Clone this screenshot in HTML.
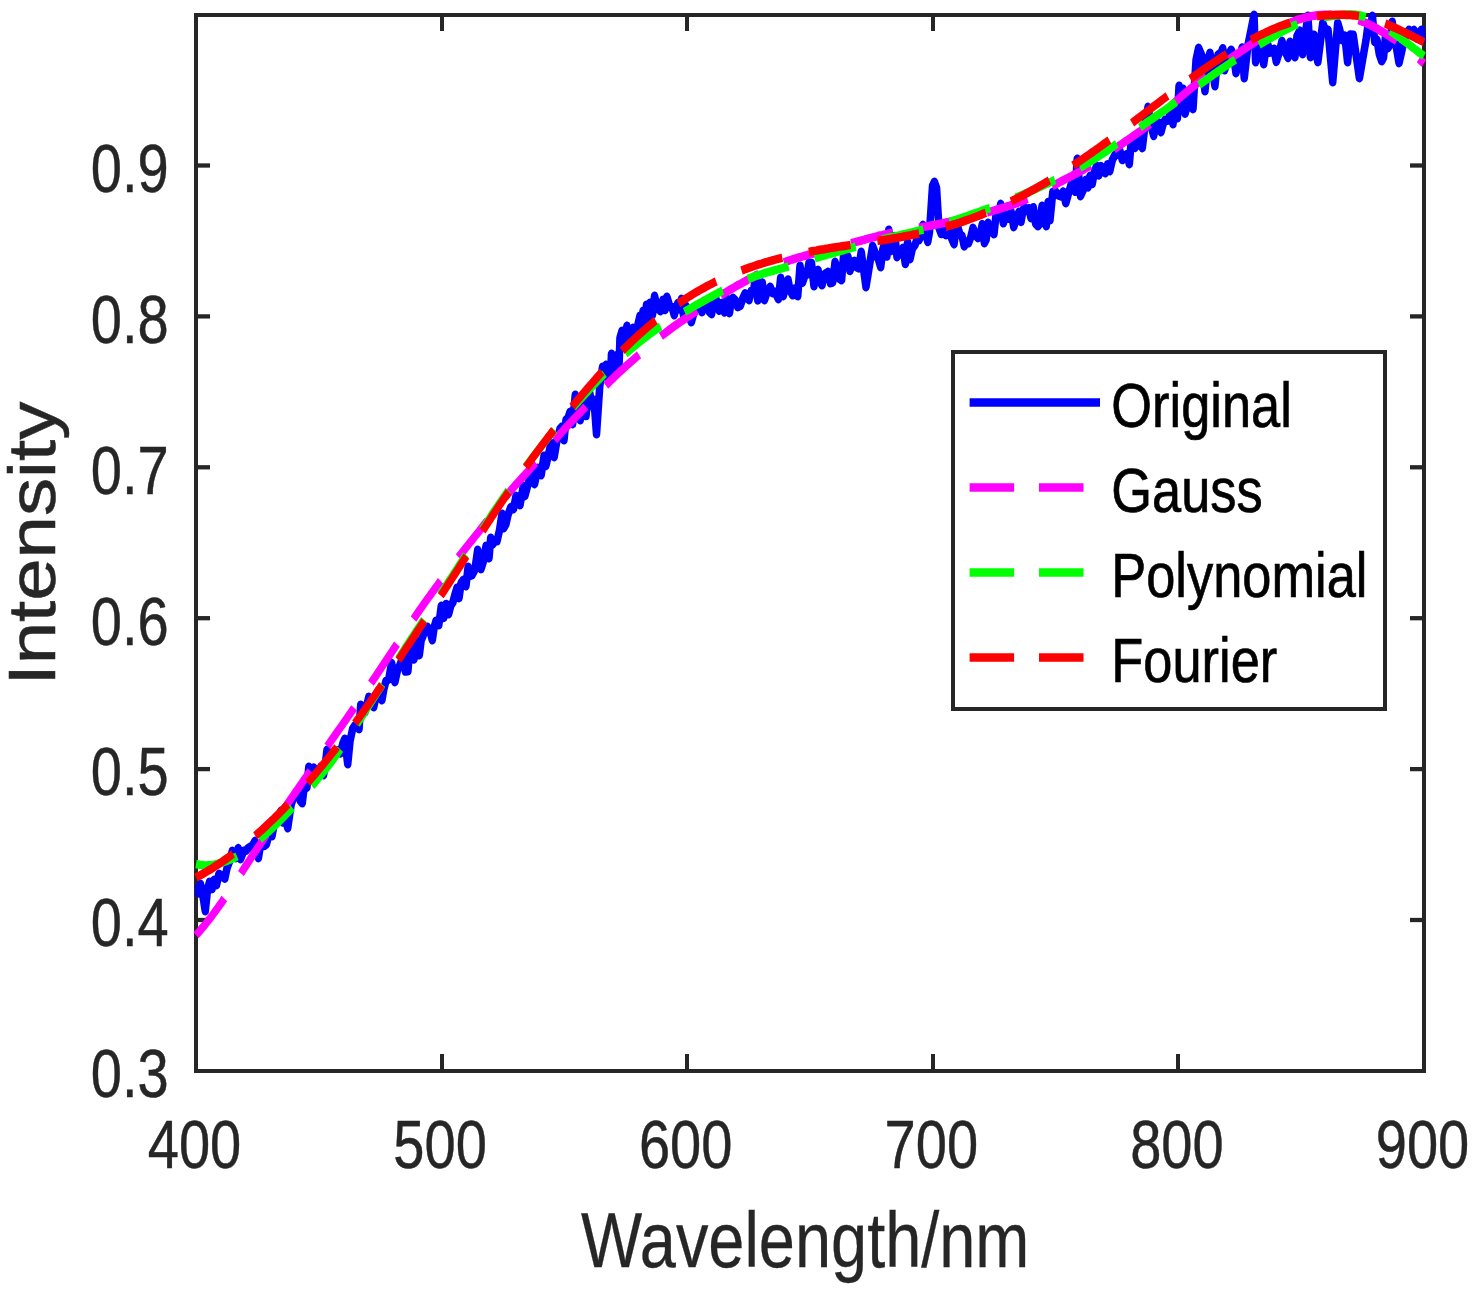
<!DOCTYPE html>
<html><head><meta charset="utf-8"><title>Spectrum fit</title>
<style>html,body{margin:0;padding:0;background:#fff;}svg{display:block;}text{font-family:"Liberation Sans",sans-serif;}</style></head>
<body>
<svg width="1477" height="1290" viewBox="0 0 1477 1290" font-family="'Liberation Sans', sans-serif">
<rect width="1477" height="1290" fill="#ffffff"/>
<g stroke="#262626" stroke-width="4" fill="none" shape-rendering="crispEdges">
<rect x="196.0" y="15.0" width="1228.0" height="1056.0"/>
<line x1="442" y1="1071.0" x2="442" y2="1054.0"/>
<line x1="442" y1="15.0" x2="442" y2="31.0"/>
<line x1="687" y1="1071.0" x2="687" y2="1054.0"/>
<line x1="687" y1="15.0" x2="687" y2="31.0"/>
<line x1="933" y1="1071.0" x2="933" y2="1054.0"/>
<line x1="933" y1="15.0" x2="933" y2="31.0"/>
<line x1="1178" y1="1071.0" x2="1178" y2="1054.0"/>
<line x1="1178" y1="15.0" x2="1178" y2="31.0"/>
</g>
<g stroke="#262626" stroke-width="4.3" fill="none">
<line x1="196.0" y1="920.0" x2="210.0" y2="920.0"/>
<line x1="1424.0" y1="920.0" x2="1410.0" y2="920.0"/>
<line x1="196.0" y1="769.1" x2="210.0" y2="769.1"/>
<line x1="1424.0" y1="769.1" x2="1410.0" y2="769.1"/>
<line x1="196.0" y1="618.2" x2="210.0" y2="618.2"/>
<line x1="1424.0" y1="618.2" x2="1410.0" y2="618.2"/>
<line x1="196.0" y1="467.3" x2="210.0" y2="467.3"/>
<line x1="1424.0" y1="467.3" x2="1410.0" y2="467.3"/>
<line x1="196.0" y1="316.4" x2="210.0" y2="316.4"/>
<line x1="1424.0" y1="316.4" x2="1410.0" y2="316.4"/>
<line x1="196.0" y1="165.5" x2="210.0" y2="165.5"/>
<line x1="1424.0" y1="165.5" x2="1410.0" y2="165.5"/>
</g>
<g transform="scale(0.85,1)" fill="none" stroke-width="8.5" stroke-linejoin="round">
<clipPath id="cb"><rect x="229.4" y="0" width="1447.6" height="1290"/></clipPath>
<path d="M230.6,896.5L233.5,888.0L235.9,884.0L238.2,893.0L241.5,911.0L244.1,890.0L246.5,882.0L249.4,889.0L251.8,880.0L254.7,885.0L257.6,874.0L259.8,875.5L261.9,877.0L264.5,878.5L267.1,868.0L270.2,861.0L273.3,851.0L275.5,855.7L277.6,858.0L280.3,848.3L282.9,859.0L286.7,851.0L289.2,850.7L291.6,848.5L294.1,847.0L297.1,845.7L300.0,841.0L304.0,858.0L306.1,846.7L308.2,846.0L310.9,845.8L313.5,844.0L316.8,832.8L320.0,836.0L322.4,824.9L324.7,822.0L327.6,820.2L330.6,811.0L333.2,822.4L335.8,819.0L338.5,828.0L342.4,805.0L345.9,796.0L348.3,792.1L350.8,791.4L353.2,800.6L355.6,803.0L358.8,780.0L361.1,787.5L363.3,767.0L366.1,772.6L368.9,767.7L371.8,771.0L374.7,776.2L377.6,766.6L380.6,775.0L382.6,765.2L384.7,750.0L387.8,761.4L391.0,754.7L394.1,752.0L397.3,750.4L400.4,753.2L403.5,743.0L405.6,739.0L409.1,764.0L411.8,741.0L414.8,729.0L417.3,725.9L419.8,725.2L422.4,729.0L424.4,705.0L426.9,708.2L429.4,712.0L431.6,704.7L433.9,697.0L436.8,699.2L439.6,707.0L442.2,697.3L444.7,691.0L447.0,692.2L449.3,700.0L451.7,688.6L454.1,681.0L457.4,679.1L460.7,663.0L464.6,682.0L467.6,670.4L470.6,665.0L474.1,656.0L477.0,671.3L479.9,671.0L482.3,646.8L484.7,651.0L487.1,659.3L489.4,641.0L493.3,655.0L495.5,640.2L497.6,636.0L500.2,629.1L502.8,627.0L505.7,630.7L508.6,640.0L510.8,627.3L512.9,621.0L516.2,625.0L519.2,606.0L522.0,617.7L524.9,604.1L527.8,614.0L530.3,605.8L532.9,602.1L535.4,594.0L537.7,587.9L540.0,598.0L542.5,582.9L545.1,580.0L548.2,586.0L550.7,567.0L553.0,575.7L555.3,575.0L558.6,569.9L562.0,550.0L565.9,569.0L568.8,561.0L571.8,546.0L575.3,558.0L577.3,538.0L579.8,544.1L582.2,540.5L584.7,541.0L587.6,530.5L590.6,514.0L592.6,528.0L595.1,524.3L597.6,515.0L600.9,507.3L604.1,509.0L607.1,496.0L609.4,499.9L611.8,505.0L615.6,486.0L617.5,496.0L619.9,488.4L622.4,480.0L624.7,472.8L627.1,473.0L628.9,484.0L632.9,468.0L636.7,475.0L640.0,456.0L642.2,465.8L644.4,458.0L648.2,443.0L652.0,457.0L655.3,440.0L658.8,429.0L661.2,426.7L663.5,440.0L665.9,420.0L668.2,418.4L670.6,412.0L673.7,424.0L676.8,395.0L679.7,399.4L682.6,420.0L684.8,399.1L687.1,400.0L689.4,415.9L691.8,397.0L693.9,393.2L696.0,406.0L698.8,400.0L701.8,434.0L705.6,386.0L708.9,367.0L711.2,376.0L712.9,365.0L715.9,379.0L718.5,372.0L719.4,354.0L722.4,369.0L726.1,355.0L728.2,367.0L729.4,338.0L731.8,331.0L734.7,346.0L737.6,326.0L741.2,341.0L744.7,328.0L748.2,339.0L750.6,324.2L752.9,316.0L755.3,331.0L756.5,311.0L758.8,326.0L760.6,305.0L762.9,319.0L764.7,303.0L767.6,315.0L770.1,296.0L772.9,307.0L776.8,311.0L780.0,300.0L782.3,309.9L784.6,297.0L788.2,307.0L790.7,307.1L793.2,315.0L795.4,308.5L797.6,303.0L799.7,309.3L801.8,299.0L804.4,317.2L807.1,306.0L810.2,315.5L813.3,322.0L816.1,313.8L818.8,308.0L821.2,306.7L823.5,306.5L825.9,312.0L828.8,301.8L831.8,305.0L834.5,311.6L837.2,314.0L840.1,299.4L842.9,300.0L846.2,310.6L849.4,303.0L852.4,312.3L855.3,298.7L858.2,313.0L860.3,300.4L862.4,298.0L865.1,300.4L867.9,307.0L871.0,305.7L874.1,298.0L876.5,293.5L878.8,297.1L881.2,300.0L883.8,291.2L886.4,291.6L888.9,276.0L891.5,300.2L894.1,285.0L896.8,282.7L899.4,300.0L902.8,291.2L906.1,287.0L908.9,292.9L911.8,292.0L915.8,299.0L918.4,278.0L921.5,296.0L924.7,285.0L927.1,279.6L929.4,290.0L932.4,295.1L935.5,288.4L938.5,296.0L941.2,266.0L944.1,282.6L947.1,275.0L949.4,274.5L951.8,263.0L954.7,263.1L957.6,286.0L960.0,271.0L962.4,270.0L964.7,281.8L967.1,285.0L969.4,274.9L971.8,273.3L974.1,272.0L976.9,283.0L979.6,282.4L982.4,262.0L984.9,268.7L987.5,278.6L990.1,280.0L992.6,253.9L995.1,253.2L997.6,257.0L1000.0,270.9L1002.4,262.0L1004.9,261.1L1007.4,267.0L1010.3,268.2L1013.2,252.0L1016.0,269.5L1018.8,287.0L1021.4,273.3L1024.0,259.7L1026.6,246.0L1030.6,255.0L1033.4,259.2L1036.1,267.0L1038.6,249.6L1041.2,241.0L1043.4,256.4L1045.6,230.0L1048.1,250.9L1050.6,245.0L1052.9,236.3L1055.3,257.0L1057.6,252.7L1060.0,253.1L1062.4,248.0L1065.1,263.8L1067.8,242.5L1070.6,259.0L1073.5,248.1L1076.5,245.0L1078.8,239.0L1081.2,240.0L1083.5,235.3L1085.9,225.0L1089.4,235.0L1091.5,241.7L1093.5,232.0L1097.1,186.0L1099.3,182.0L1101.8,188.0L1104.7,228.0L1107.4,233.9L1110.0,228.1L1112.7,235.0L1115.2,234.0L1117.6,232.0L1120.0,239.3L1122.4,244.0L1124.7,228.5L1127.1,228.0L1129.4,234.7L1131.8,236.0L1134.4,246.2L1136.9,241.9L1139.5,243.0L1142.1,237.1L1144.7,228.0L1147.6,234.7L1150.6,238.0L1153.1,234.6L1155.6,224.3L1158.1,243.0L1160.2,239.5L1162.4,223.0L1164.7,232.2L1167.1,228.6L1169.4,234.0L1172.0,213.2L1174.7,215.7L1177.3,204.0L1180.4,223.1L1183.5,215.0L1186.5,218.6L1189.6,211.8L1192.6,227.0L1195.7,218.7L1198.8,212.0L1201.2,221.8L1203.5,209.8L1205.9,208.0L1208.2,210.9L1210.6,208.4L1212.9,218.0L1215.7,207.4L1218.4,223.6L1221.2,226.0L1223.5,223.4L1225.9,206.0L1228.4,220.5L1230.9,226.0L1233.1,202.1L1235.3,220.0L1238.6,192.0L1241.6,191.3L1244.7,195.0L1247.8,196.2L1250.8,191.7L1253.9,203.0L1256.9,193.8L1260.0,185.0L1262.4,182.2L1264.9,191.6L1267.3,159.0L1271.2,196.0L1274.4,190.0L1277.6,180.0L1280.0,187.3L1282.4,176.0L1285.0,183.7L1287.6,171.5L1290.2,166.0L1292.7,175.2L1295.2,166.2L1297.6,168.0L1300.3,173.1L1303.0,164.5L1305.6,171.0L1308.7,159.8L1311.8,155.0L1314.7,154.3L1317.6,151.0L1320.4,159.9L1323.1,156.0L1325.9,154.1L1328.6,164.0L1330.8,142.2L1332.9,141.0L1335.3,147.7L1337.6,145.0L1340.8,132.2L1343.9,148.0L1347.1,125.0L1350.6,107.0L1354.6,127.0L1357.3,135.7L1360.0,122.0L1362.9,122.4L1365.9,132.0L1368.2,124.4L1370.6,120.0L1373.1,120.6L1375.6,117.0L1377.8,106.2L1380.0,124.0L1382.6,102.6L1385.2,118.0L1387.1,86.0L1389.4,103.7L1391.8,89.0L1394.2,113.5L1396.7,106.0L1400.0,95.0L1403.5,109.0L1407.1,60.0L1410.1,48.0L1414.1,56.0L1417.6,91.0L1421.2,60.0L1423.5,53.0L1426.4,69.5L1429.3,86.0L1432.9,55.0L1436.5,53.0L1438.6,48.4L1440.7,70.0L1444.7,55.0L1448.5,50.0L1451.3,55.9L1454.1,73.0L1456.5,62.4L1458.8,60.0L1461.3,47.7L1463.8,78.0L1466.0,61.5L1468.2,45.0L1471.8,30.0L1475.3,15.0L1477.2,62.0L1481.2,50.0L1483.9,38.8L1486.7,64.0L1489.2,49.5L1491.8,45.0L1494.1,52.5L1496.5,52.0L1499.0,48.9L1501.5,61.7L1504.0,55.0L1506.1,48.7L1508.2,41.0L1510.6,51.1L1512.9,53.0L1515.3,57.7L1517.6,42.0L1521.2,50.0L1523.5,57.1L1525.9,36.0L1529.1,30.7L1532.4,54.0L1535.5,35.0L1538.7,16.0L1541.6,57.0L1543.8,38.0L1545.9,35.0L1548.1,52.0L1550.4,62.0L1553.3,42.5L1556.2,23.0L1560.0,32.0L1562.4,30.0L1565.1,56.0L1567.9,82.0L1570.8,52.5L1573.8,23.0L1576.3,30.4L1578.8,40.0L1582.1,35.7L1585.4,62.0L1588.7,34.8L1592.0,35.0L1594.4,49.3L1596.9,63.7L1599.3,78.0L1601.9,65.3L1604.5,52.7L1607.1,40.0L1609.6,24.0L1612.1,26.5L1614.6,16.0L1617.3,41.9L1620.0,40.0L1622.8,54.3L1625.5,61.0L1627.7,57.6L1629.9,37.0L1632.9,48.0L1635.4,44.4L1637.9,22.0L1640.5,35.7L1643.2,49.3L1645.9,63.0L1649.4,50.0L1651.8,40.0L1654.7,33.0L1657.6,30.0L1660.6,35.0L1663.5,30.0L1666.5,38.0L1669.4,33.0L1672.2,30.0L1675.3,43.0" stroke="#0000ff" stroke-width="8.9" clip-path="url(#cb)"/>
<path d="M230.6,935.3L232.9,933.0L235.3,930.7L237.6,928.3L240.0,925.9L242.4,923.4L244.7,920.9L247.1,918.3L249.4,915.7L251.8,913.0L254.1,910.3L256.5,907.5L258.8,904.7L261.2,901.9L263.5,899.0L265.9,896.0L268.2,893.1L270.6,890.1L272.9,887.1L275.3,884.0L277.6,881.0L280.0,877.9L282.4,874.8L284.7,871.8L287.1,868.7L289.4,865.6L291.8,862.5L294.1,859.5L296.5,856.4L298.8,853.4L301.2,850.4L303.5,847.3L305.9,844.3L308.2,841.3L310.6,838.3L312.9,835.3L315.3,832.4L317.6,829.4L320.0,826.4L322.4,823.5L324.7,820.5L327.1,817.6L329.4,814.7L331.8,811.8L334.1,808.9L336.5,806.0L338.8,803.1L341.2,800.2L343.5,797.3L345.9,794.4L348.2,791.5L350.6,788.7L352.9,785.8L355.3,782.9L357.6,780.0L360.0,777.1L362.4,774.2L364.7,771.3L367.1,768.4L369.4,765.5L371.8,762.6L374.1,759.7L376.5,756.8L378.8,753.9L381.2,751.0L383.5,748.1L385.9,745.2L388.2,742.4L390.6,739.5L392.9,736.7L395.3,733.8L397.6,731.0L400.0,728.1L402.4,725.3L404.7,722.4L407.1,719.6L409.4,716.7L411.8,713.8L414.1,710.9L416.5,708.0L418.8,705.1L421.2,702.2L423.5,699.3L425.9,696.3L428.2,693.4L430.6,690.5L432.9,687.5L435.3,684.5L437.6,681.6L440.0,678.6L442.4,675.7L444.7,672.7L447.1,669.7L449.4,666.7L451.8,663.7L454.1,660.7L456.5,657.7L458.8,654.7L461.2,651.7L463.5,648.7L465.9,645.6L468.2,642.6L470.6,639.5L472.9,636.5L475.3,633.4L477.6,630.4L480.0,627.3L482.4,624.3L484.7,621.3L487.1,618.3L489.4,615.4L491.8,612.4L494.1,609.5L496.5,606.7L498.8,603.8L501.2,601.0L503.5,598.2L505.9,595.5L508.2,592.7L510.6,590.0L512.9,587.2L515.3,584.5L517.6,581.8L520.0,579.1L522.4,576.4L524.7,573.7L527.1,571.0L529.4,568.4L531.8,565.7L534.1,563.1L536.5,560.4L538.8,557.8L541.2,555.3L543.5,552.7L545.9,550.2L548.2,547.6L550.6,545.1L552.9,542.6L555.3,540.2L557.6,537.7L560.0,535.1L562.4,532.6L564.7,530.1L567.1,527.5L569.4,524.9L571.8,522.3L574.1,519.6L576.5,517.0L578.8,514.3L581.2,511.7L583.5,509.0L585.9,506.4L588.2,503.8L590.6,501.2L592.9,498.7L595.3,496.2L597.6,493.8L600.0,491.4L602.4,489.0L604.7,486.7L607.1,484.5L609.4,482.3L611.8,480.1L614.1,477.9L616.5,475.7L618.8,473.5L621.2,471.3L623.5,469.1L625.9,466.8L628.2,464.5L630.6,462.2L632.9,459.9L635.3,457.6L637.6,455.2L640.0,452.8L642.4,450.5L644.7,448.1L647.1,445.7L649.4,443.4L651.8,441.0L654.1,438.7L656.5,436.4L658.8,434.1L661.2,431.9L663.5,429.6L665.9,427.4L668.2,425.3L670.6,423.1L672.9,421.0L675.3,418.9L677.6,416.8L680.0,414.8L682.4,412.7L684.7,410.6L687.1,408.5L689.4,406.4L691.8,404.3L694.1,402.2L696.5,400.1L698.8,398.0L701.2,395.9L703.5,393.8L705.9,391.6L708.2,389.5L710.6,387.4L712.9,385.4L715.3,383.3L717.6,381.3L720.0,379.3L722.4,377.4L724.7,375.4L727.1,373.5L729.4,371.7L731.8,369.8L734.1,368.0L736.5,366.2L738.8,364.4L741.2,362.6L743.5,360.9L745.9,359.1L748.2,357.4L750.6,355.6L752.9,353.9L755.3,352.2L757.6,350.5L760.0,348.7L762.4,347.0L764.7,345.4L767.1,343.7L769.4,342.0L771.8,340.4L774.1,338.7L776.5,337.1L778.8,335.5L781.2,334.0L783.5,332.4L785.9,330.9L788.2,329.4L790.6,327.9L792.9,326.4L795.3,325.0L797.6,323.6L800.0,322.2L802.4,320.8L804.7,319.4L807.1,318.1L809.4,316.7L811.8,315.4L814.1,314.1L816.5,312.8L818.8,311.4L821.2,310.1L823.5,308.8L825.9,307.5L828.2,306.2L830.6,304.9L832.9,303.6L835.3,302.3L837.6,301.0L840.0,299.7L842.4,298.4L844.7,297.1L847.1,295.9L849.4,294.6L851.8,293.4L854.1,292.2L856.5,291.0L858.8,289.8L861.2,288.6L863.5,287.5L865.9,286.3L868.2,285.2L870.6,284.1L872.9,283.0L875.3,281.9L877.6,280.8L880.0,279.7L882.4,278.7L884.7,277.6L887.1,276.5L889.4,275.4L891.8,274.4L894.1,273.4L896.5,272.3L898.8,271.3L901.2,270.3L903.5,269.3L905.9,268.4L908.2,267.4L910.6,266.5L912.9,265.6L915.3,264.8L917.6,263.9L920.0,263.1L922.4,262.4L924.7,261.6L927.1,260.9L929.4,260.2L931.8,259.6L934.1,258.9L936.5,258.3L938.8,257.7L941.2,257.1L943.5,256.6L945.9,256.0L948.2,255.5L950.6,254.9L952.9,254.4L955.3,253.8L957.6,253.3L960.0,252.7L962.4,252.2L964.7,251.7L967.1,251.1L969.4,250.6L971.8,250.0L974.1,249.5L976.5,249.0L978.8,248.4L981.2,247.9L983.5,247.3L985.9,246.8L988.2,246.3L990.6,245.7L992.9,245.2L995.3,244.6L997.6,244.1L1000.0,243.6L1002.4,243.0L1004.7,242.5L1007.1,241.9L1009.4,241.4L1011.8,240.9L1014.1,240.3L1016.5,239.8L1018.8,239.2L1021.2,238.7L1023.5,238.1L1025.9,237.6L1028.2,237.1L1030.6,236.6L1032.9,236.0L1035.3,235.5L1037.6,235.1L1040.0,234.6L1042.4,234.1L1044.7,233.7L1047.1,233.2L1049.4,232.8L1051.8,232.4L1054.1,232.0L1056.5,231.6L1058.8,231.2L1061.2,230.8L1063.5,230.5L1065.9,230.1L1068.2,229.7L1070.6,229.4L1072.9,229.0L1075.3,228.7L1077.6,228.3L1080.0,227.9L1082.4,227.6L1084.7,227.2L1087.1,226.8L1089.4,226.5L1091.8,226.1L1094.1,225.7L1096.5,225.3L1098.8,224.9L1101.2,224.6L1103.5,224.2L1105.9,223.8L1108.2,223.4L1110.6,222.9L1112.9,222.5L1115.3,222.1L1117.6,221.7L1120.0,221.2L1122.4,220.8L1124.7,220.3L1127.1,219.9L1129.4,219.4L1131.8,219.0L1134.1,218.5L1136.5,218.0L1138.8,217.5L1141.2,217.0L1143.5,216.5L1145.9,216.0L1148.2,215.5L1150.6,214.9L1152.9,214.4L1155.3,213.9L1157.6,213.3L1160.0,212.8L1162.4,212.2L1164.7,211.6L1167.1,211.1L1169.4,210.5L1171.8,209.9L1174.1,209.3L1176.5,208.7L1178.8,208.1L1181.2,207.5L1183.5,206.9L1185.9,206.2L1188.2,205.6L1190.6,204.9L1192.9,204.2L1195.3,203.5L1197.6,202.7L1200.0,202.0L1202.4,201.1L1204.7,200.3L1207.1,199.4L1209.4,198.5L1211.8,197.6L1214.1,196.7L1216.5,195.7L1218.8,194.7L1221.2,193.7L1223.5,192.6L1225.9,191.6L1228.2,190.5L1230.6,189.5L1232.9,188.4L1235.3,187.3L1237.6,186.2L1240.0,185.2L1242.4,184.1L1244.7,183.1L1247.1,182.0L1249.4,181.0L1251.8,179.9L1254.1,178.9L1256.5,177.9L1258.8,176.8L1261.2,175.8L1263.5,174.7L1265.9,173.7L1268.2,172.6L1270.6,171.5L1272.9,170.4L1275.3,169.3L1277.6,168.1L1280.0,166.9L1282.4,165.7L1284.7,164.4L1287.1,163.2L1289.4,161.9L1291.8,160.5L1294.1,159.2L1296.5,157.8L1298.8,156.4L1301.2,155.1L1303.5,153.7L1305.9,152.2L1308.2,150.8L1310.6,149.4L1312.9,148.0L1315.3,146.6L1317.6,145.2L1320.0,143.8L1322.4,142.4L1324.7,141.0L1327.1,139.7L1329.4,138.3L1331.8,136.9L1334.1,135.5L1336.5,134.1L1338.8,132.7L1341.2,131.3L1343.5,129.9L1345.9,128.4L1348.2,127.0L1350.6,125.4L1352.9,123.9L1355.3,122.3L1357.6,120.7L1360.0,119.0L1362.4,117.3L1364.7,115.6L1367.1,113.8L1369.4,112.1L1371.8,110.3L1374.1,108.4L1376.5,106.6L1378.8,104.8L1381.2,103.0L1383.5,101.2L1385.9,99.4L1388.2,97.7L1390.6,95.9L1392.9,94.2L1395.3,92.5L1397.6,90.8L1400.0,89.1L1402.4,87.5L1404.7,85.9L1407.1,84.3L1409.4,82.7L1411.8,81.1L1414.1,79.5L1416.5,78.0L1418.8,76.4L1421.2,74.9L1423.5,73.4L1425.9,71.9L1428.2,70.4L1430.6,68.9L1432.9,67.4L1435.3,65.9L1437.6,64.5L1440.0,63.0L1442.4,61.6L1444.7,60.2L1447.1,58.8L1449.4,57.4L1451.8,56.0L1454.1,54.6L1456.5,53.3L1458.8,51.9L1461.2,50.6L1463.5,49.2L1465.9,47.9L1468.2,46.6L1470.6,45.3L1472.9,44.0L1475.3,42.7L1477.6,41.4L1480.0,40.2L1482.4,38.9L1484.7,37.7L1487.1,36.5L1489.4,35.3L1491.8,34.1L1494.1,32.9L1496.5,31.8L1498.8,30.6L1501.2,29.5L1503.5,28.5L1505.9,27.4L1508.2,26.4L1510.6,25.5L1512.9,24.5L1515.3,23.6L1517.6,22.8L1520.0,22.0L1522.4,21.2L1524.7,20.4L1527.1,19.7L1529.4,19.1L1531.8,18.5L1534.1,17.9L1536.5,17.4L1538.8,16.9L1541.2,16.5L1543.5,16.1L1545.9,15.8L1548.2,15.5L1550.6,15.2L1552.9,15.0L1555.3,14.9L1557.6,14.8L1560.0,14.8L1562.4,14.8L1564.7,14.8L1567.1,14.9L1569.4,15.0L1571.8,15.2L1574.1,15.4L1576.5,15.7L1578.8,16.0L1581.2,16.3L1583.5,16.7L1585.9,17.1L1588.2,17.5L1590.6,18.0L1592.9,18.6L1595.3,19.2L1597.6,19.9L1600.0,20.6L1602.4,21.4L1604.7,22.2L1607.1,23.1L1609.4,24.0L1611.8,25.0L1614.1,26.0L1616.5,27.0L1618.8,28.1L1621.2,29.2L1623.5,30.4L1625.9,31.6L1628.2,32.8L1630.6,34.0L1632.9,35.3L1635.3,36.5L1637.6,37.9L1640.0,39.2L1642.4,40.6L1644.7,42.0L1647.1,43.5L1649.4,45.0L1651.8,46.5L1654.1,48.0L1656.5,49.6L1658.8,51.3L1661.2,52.9L1663.5,54.6L1665.9,56.3L1668.2,58.1L1670.6,59.8L1672.9,61.6L1675.3,63.4" stroke="#ff00ff" stroke-dasharray="49.7 31.7"/>
<path d="M230.6,864.0L232.9,864.4L235.3,864.8L237.6,865.1L240.0,865.3L242.4,865.4L244.7,865.3L247.1,865.2L249.4,864.9L251.8,864.6L254.1,864.1L256.5,863.6L258.8,863.0L261.2,862.4L263.5,861.8L265.9,861.1L268.2,860.4L270.6,859.7L272.9,858.8L275.3,857.9L277.6,856.8L280.0,855.6L282.4,854.4L284.7,853.1L287.1,851.7L289.4,850.3L291.8,848.8L294.1,847.3L296.5,845.7L298.8,844.1L301.2,842.5L303.5,840.9L305.9,839.2L308.2,837.4L310.6,835.7L312.9,833.9L315.3,832.1L317.6,830.2L320.0,828.3L322.4,826.4L324.7,824.5L327.1,822.5L329.4,820.5L331.8,818.5L334.1,816.5L336.5,814.4L338.8,812.3L341.2,810.2L343.5,808.1L345.9,805.9L348.2,803.8L350.6,801.6L352.9,799.4L355.3,797.1L357.6,794.9L360.0,792.6L362.4,790.4L364.7,788.0L367.1,785.7L369.4,783.4L371.8,781.0L374.1,778.6L376.5,776.2L378.8,773.8L381.2,771.3L383.5,768.8L385.9,766.2L388.2,763.6L390.6,761.0L392.9,758.2L395.3,755.5L397.6,752.6L400.0,749.8L402.4,746.9L404.7,743.9L407.1,740.9L409.4,737.9L411.8,734.9L414.1,731.8L416.5,728.7L418.8,725.6L421.2,722.5L423.5,719.4L425.9,716.3L428.2,713.2L430.6,710.1L432.9,707.0L435.3,703.9L437.6,700.8L440.0,697.7L442.4,694.5L444.7,691.3L447.1,688.2L449.4,685.0L451.8,681.8L454.1,678.6L456.5,675.4L458.8,672.2L461.2,669.0L463.5,665.8L465.9,662.6L468.2,659.4L470.6,656.2L472.9,653.1L475.3,650.0L477.6,646.9L480.0,643.8L482.4,640.7L484.7,637.6L487.1,634.6L489.4,631.5L491.8,628.5L494.1,625.5L496.5,622.4L498.8,619.4L501.2,616.3L503.5,613.3L505.9,610.3L508.2,607.2L510.6,604.2L512.9,601.1L515.3,598.0L517.6,595.0L520.0,591.9L522.4,588.9L524.7,585.8L527.1,582.7L529.4,579.6L531.8,576.5L534.1,573.4L536.5,570.3L538.8,567.2L541.2,564.1L543.5,561.0L545.9,557.8L548.2,554.7L550.6,551.6L552.9,548.5L555.3,545.4L557.6,542.3L560.0,539.1L562.4,536.0L564.7,532.9L567.1,529.8L569.4,526.8L571.8,523.7L574.1,520.6L576.5,517.6L578.8,514.5L581.2,511.5L583.5,508.5L585.9,505.6L588.2,502.6L590.6,499.7L592.9,496.8L595.3,493.9L597.6,491.0L600.0,488.2L602.4,485.4L604.7,482.6L607.1,479.9L609.4,477.1L611.8,474.4L614.1,471.7L616.5,469.0L618.8,466.3L621.2,463.7L623.5,461.0L625.9,458.4L628.2,455.8L630.6,453.2L632.9,450.6L635.3,448.0L637.6,445.4L640.0,442.9L642.4,440.4L644.7,437.8L647.1,435.3L649.4,432.8L651.8,430.4L654.1,427.9L656.5,425.5L658.8,423.1L661.2,420.7L663.5,418.3L665.9,415.9L668.2,413.6L670.6,411.2L672.9,408.9L675.3,406.6L677.6,404.3L680.0,402.1L682.4,399.8L684.7,397.6L687.1,395.4L689.4,393.2L691.8,391.0L694.1,388.9L696.5,386.7L698.8,384.6L701.2,382.5L703.5,380.4L705.9,378.4L708.2,376.3L710.6,374.3L712.9,372.3L715.3,370.3L717.6,368.3L720.0,366.4L722.4,364.5L724.7,362.6L727.1,360.7L729.4,358.8L731.8,357.0L734.1,355.2L736.5,353.4L738.8,351.6L741.2,349.9L743.5,348.2L745.9,346.5L748.2,344.8L750.6,343.1L752.9,341.5L755.3,339.9L757.6,338.3L760.0,336.8L762.4,335.3L764.7,333.8L767.1,332.3L769.4,330.9L771.8,329.5L774.1,328.2L776.5,326.8L778.8,325.5L781.2,324.2L783.5,322.9L785.9,321.6L788.2,320.4L790.6,319.2L792.9,317.9L795.3,316.7L797.6,315.6L800.0,314.4L802.4,313.2L804.7,312.1L807.1,310.9L809.4,309.8L811.8,308.6L814.1,307.5L816.5,306.3L818.8,305.2L821.2,304.1L823.5,302.9L825.9,301.8L828.2,300.7L830.6,299.6L832.9,298.5L835.3,297.4L837.6,296.3L840.0,295.2L842.4,294.1L844.7,293.0L847.1,292.0L849.4,290.9L851.8,289.9L854.1,288.9L856.5,287.9L858.8,286.9L861.2,285.9L863.5,285.0L865.9,284.0L868.2,283.1L870.6,282.2L872.9,281.4L875.3,280.5L877.6,279.7L880.0,278.9L882.4,278.1L884.7,277.4L887.1,276.6L889.4,275.9L891.8,275.3L894.1,274.6L896.5,274.0L898.8,273.3L901.2,272.7L903.5,272.2L905.9,271.6L908.2,271.0L910.6,270.5L912.9,269.9L915.3,269.4L917.6,268.8L920.0,268.3L922.4,267.7L924.7,267.2L927.1,266.6L929.4,266.0L931.8,265.4L934.1,264.8L936.5,264.2L938.8,263.6L941.2,263.0L943.5,262.3L945.9,261.7L948.2,261.1L950.6,260.4L952.9,259.8L955.3,259.2L957.6,258.6L960.0,257.9L962.4,257.3L964.7,256.7L967.1,256.1L969.4,255.5L971.8,255.0L974.1,254.4L976.5,253.9L978.8,253.3L981.2,252.8L983.5,252.2L985.9,251.7L988.2,251.1L990.6,250.5L992.9,250.0L995.3,249.4L997.6,248.9L1000.0,248.3L1002.4,247.7L1004.7,247.2L1007.1,246.6L1009.4,246.1L1011.8,245.5L1014.1,244.9L1016.5,244.4L1018.8,243.8L1021.2,243.3L1023.5,242.7L1025.9,242.2L1028.2,241.6L1030.6,241.1L1032.9,240.6L1035.3,240.0L1037.6,239.5L1040.0,239.0L1042.4,238.5L1044.7,238.0L1047.1,237.5L1049.4,237.0L1051.8,236.6L1054.1,236.1L1056.5,235.6L1058.8,235.2L1061.2,234.7L1063.5,234.2L1065.9,233.8L1068.2,233.3L1070.6,232.8L1072.9,232.3L1075.3,231.8L1077.6,231.3L1080.0,230.8L1082.4,230.3L1084.7,229.8L1087.1,229.3L1089.4,228.7L1091.8,228.2L1094.1,227.6L1096.5,227.1L1098.8,226.5L1101.2,225.9L1103.5,225.4L1105.9,224.8L1108.2,224.2L1110.6,223.6L1112.9,223.0L1115.3,222.4L1117.6,221.7L1120.0,221.1L1122.4,220.5L1124.7,219.8L1127.1,219.2L1129.4,218.5L1131.8,217.8L1134.1,217.2L1136.5,216.5L1138.8,215.8L1141.2,215.1L1143.5,214.4L1145.9,213.7L1148.2,213.0L1150.6,212.3L1152.9,211.6L1155.3,210.8L1157.6,210.1L1160.0,209.4L1162.4,208.7L1164.7,207.9L1167.1,207.2L1169.4,206.4L1171.8,205.7L1174.1,204.9L1176.5,204.1L1178.8,203.3L1181.2,202.6L1183.5,201.8L1185.9,201.0L1188.2,200.1L1190.6,199.3L1192.9,198.5L1195.3,197.6L1197.6,196.8L1200.0,195.9L1202.4,195.0L1204.7,194.2L1207.1,193.3L1209.4,192.4L1211.8,191.4L1214.1,190.5L1216.5,189.6L1218.8,188.7L1221.2,187.8L1223.5,186.9L1225.9,186.0L1228.2,185.1L1230.6,184.1L1232.9,183.2L1235.3,182.3L1237.6,181.4L1240.0,180.5L1242.4,179.6L1244.7,178.6L1247.1,177.7L1249.4,176.8L1251.8,175.8L1254.1,174.8L1256.5,173.8L1258.8,172.8L1261.2,171.8L1263.5,170.8L1265.9,169.7L1268.2,168.7L1270.6,167.6L1272.9,166.4L1275.3,165.3L1277.6,164.1L1280.0,162.9L1282.4,161.7L1284.7,160.5L1287.1,159.2L1289.4,157.9L1291.8,156.7L1294.1,155.3L1296.5,154.0L1298.8,152.7L1301.2,151.3L1303.5,150.0L1305.9,148.6L1308.2,147.2L1310.6,145.8L1312.9,144.4L1315.3,143.0L1317.6,141.6L1320.0,140.2L1322.4,138.7L1324.7,137.3L1327.1,135.9L1329.4,134.5L1331.8,133.0L1334.1,131.6L1336.5,130.2L1338.8,128.7L1341.2,127.3L1343.5,125.9L1345.9,124.5L1348.2,123.0L1350.6,121.6L1352.9,120.2L1355.3,118.9L1357.6,117.5L1360.0,116.1L1362.4,114.8L1364.7,113.4L1367.1,112.1L1369.4,110.7L1371.8,109.3L1374.1,107.8L1376.5,106.4L1378.8,104.9L1381.2,103.4L1383.5,101.9L1385.9,100.4L1388.2,99.0L1390.6,97.5L1392.9,96.0L1395.3,94.5L1397.6,93.0L1400.0,91.5L1402.4,90.0L1404.7,88.6L1407.1,87.1L1409.4,85.6L1411.8,84.2L1414.1,82.7L1416.5,81.3L1418.8,79.9L1421.2,78.5L1423.5,77.0L1425.9,75.6L1428.2,74.2L1430.6,72.8L1432.9,71.4L1435.3,70.1L1437.6,68.7L1440.0,67.3L1442.4,65.9L1444.7,64.6L1447.1,63.2L1449.4,61.9L1451.8,60.5L1454.1,59.2L1456.5,57.9L1458.8,56.6L1461.2,55.3L1463.5,54.0L1465.9,52.7L1468.2,51.4L1470.6,50.2L1472.9,48.9L1475.3,47.7L1477.6,46.5L1480.0,45.3L1482.4,44.1L1484.7,42.9L1487.1,41.8L1489.4,40.6L1491.8,39.5L1494.1,38.4L1496.5,37.2L1498.8,36.1L1501.2,35.0L1503.5,33.9L1505.9,32.8L1508.2,31.6L1510.6,30.6L1512.9,29.5L1515.3,28.5L1517.6,27.5L1520.0,26.5L1522.4,25.6L1524.7,24.8L1527.1,24.0L1529.4,23.2L1531.8,22.5L1534.1,21.8L1536.5,21.2L1538.8,20.6L1541.2,20.1L1543.5,19.5L1545.9,19.0L1548.2,18.6L1550.6,18.1L1552.9,17.7L1555.3,17.4L1557.6,17.0L1560.0,16.7L1562.4,16.4L1564.7,16.2L1567.1,15.9L1569.4,15.7L1571.8,15.5L1574.1,15.3L1576.5,15.1L1578.8,14.9L1581.2,14.7L1583.5,14.6L1585.9,14.5L1588.2,14.4L1590.6,14.5L1592.9,14.6L1595.3,14.8L1597.6,15.1L1600.0,15.5L1602.4,16.0L1604.7,16.6L1607.1,17.3L1609.4,18.0L1611.8,18.9L1614.1,19.8L1616.5,20.8L1618.8,21.9L1621.2,23.0L1623.5,24.2L1625.9,25.5L1628.2,26.8L1630.6,28.1L1632.9,29.5L1635.3,30.8L1637.6,32.2L1640.0,33.6L1642.4,35.0L1644.7,36.5L1647.1,37.9L1649.4,39.4L1651.8,40.9L1654.1,42.4L1656.5,43.9L1658.8,45.4L1661.2,46.9L1663.5,48.5L1665.9,50.0L1668.2,51.6L1670.6,53.1L1672.9,54.7L1675.3,56.2" stroke="#00ff00" stroke-dasharray="49.7 31.7"/>
<path d="M230.6,877.5L232.9,876.4L235.3,875.4L237.6,874.3L240.0,873.1L242.4,872.0L244.7,870.8L247.1,869.6L249.4,868.4L251.8,867.1L254.1,865.8L256.5,864.5L258.8,863.2L261.2,861.8L263.5,860.4L265.9,859.0L268.2,857.6L270.6,856.2L272.9,854.7L275.3,853.2L277.6,851.7L280.0,850.1L282.4,848.5L284.7,847.0L287.1,845.3L289.4,843.7L291.8,842.0L294.1,840.4L296.5,838.7L298.8,836.9L301.2,835.2L303.5,833.4L305.9,831.6L308.2,829.8L310.6,828.0L312.9,826.1L315.3,824.2L317.6,822.3L320.0,820.4L322.4,818.5L324.7,816.5L327.1,814.5L329.4,812.5L331.8,810.5L334.1,808.5L336.5,806.4L338.8,804.3L341.2,802.2L343.5,800.1L345.9,797.9L348.2,795.8L350.6,793.6L352.9,791.4L355.3,789.1L357.6,786.9L360.0,784.6L362.4,782.4L364.7,780.0L367.1,777.7L369.4,775.4L371.8,773.0L374.1,770.6L376.5,768.2L378.8,765.8L381.2,763.4L383.5,760.9L385.9,758.4L388.2,755.9L390.6,753.4L392.9,750.9L395.3,748.3L397.6,745.7L400.0,743.2L402.4,740.5L404.7,737.9L407.1,735.3L409.4,732.6L411.8,729.9L414.1,727.2L416.5,724.5L418.8,721.8L421.2,719.0L423.5,716.2L425.9,713.5L428.2,710.6L430.6,707.8L432.9,705.0L435.3,702.1L437.6,699.3L440.0,696.4L442.4,693.5L444.7,690.5L447.1,687.6L449.4,684.7L451.8,681.7L454.1,678.8L456.5,675.8L458.8,672.8L461.2,669.8L463.5,666.8L465.9,663.8L468.2,660.8L470.6,657.8L472.9,654.7L475.3,651.7L477.6,648.7L480.0,645.7L482.4,642.6L484.7,639.6L487.1,636.6L489.4,633.5L491.8,630.5L494.1,627.5L496.5,624.4L498.8,621.4L501.2,618.3L503.5,615.3L505.9,612.3L508.2,609.2L510.6,606.2L512.9,603.1L515.3,600.0L517.6,597.0L520.0,593.9L522.4,590.9L524.7,587.8L527.1,584.7L529.4,581.6L531.8,578.5L534.1,575.4L536.5,572.3L538.8,569.2L541.2,566.1L543.5,563.0L545.9,559.8L548.2,556.7L550.6,553.6L552.9,550.5L555.3,547.4L557.6,544.3L560.0,541.1L562.4,538.0L564.7,534.9L567.1,531.8L569.4,528.8L571.8,525.7L574.1,522.6L576.5,519.6L578.8,516.5L581.2,513.5L583.5,510.5L585.9,507.5L588.2,504.5L590.6,501.6L592.9,498.6L595.3,495.7L597.6,492.8L600.0,489.8L602.4,487.0L604.7,484.1L607.1,481.2L609.4,478.4L611.8,475.5L614.1,472.7L616.5,469.9L618.8,467.1L621.2,464.4L623.5,461.6L625.9,458.8L628.2,456.1L630.6,453.4L632.9,450.7L635.3,448.0L637.6,445.3L640.0,442.7L642.4,440.0L644.7,437.4L647.1,434.7L649.4,432.1L651.8,429.5L654.1,427.0L656.5,424.4L658.8,421.9L661.2,419.3L663.5,416.8L665.9,414.3L668.2,411.8L670.6,409.3L672.9,406.9L675.3,404.4L677.6,402.0L680.0,399.6L682.4,397.2L684.7,394.8L687.1,392.5L689.4,390.1L691.8,387.8L694.1,385.5L696.5,383.2L698.8,380.9L701.2,378.6L703.5,376.4L705.9,374.2L708.2,372.0L710.6,369.8L712.9,367.6L715.3,365.5L717.6,363.3L720.0,361.2L722.4,359.1L724.7,357.1L727.1,355.0L729.4,353.0L731.8,351.0L734.1,349.0L736.5,347.0L738.8,345.1L741.2,343.2L743.5,341.3L745.9,339.4L748.2,337.5L750.6,335.7L752.9,333.9L755.3,332.1L757.6,330.3L760.0,328.6L762.4,326.9L764.7,325.2L767.1,323.5L769.4,321.8L771.8,320.2L774.1,318.6L776.5,317.0L778.8,315.5L781.2,313.9L783.5,312.4L785.9,310.9L788.2,309.5L790.6,308.0L792.9,306.6L795.3,305.2L797.6,303.8L800.0,302.4L802.4,301.1L804.7,299.8L807.1,298.5L809.4,297.2L811.8,296.0L814.1,294.7L816.5,293.5L818.8,292.3L821.2,291.2L823.5,290.0L825.9,288.9L828.2,287.8L830.6,286.7L832.9,285.6L835.3,284.6L837.6,283.6L840.0,282.5L842.4,281.6L844.7,280.6L847.1,279.6L849.4,278.7L851.8,277.8L854.1,276.9L856.5,276.0L858.8,275.1L861.2,274.3L863.5,273.5L865.9,272.7L868.2,271.9L870.6,271.1L872.9,270.3L875.3,269.6L877.6,268.8L880.0,268.1L882.4,267.4L884.7,266.7L887.1,266.0L889.4,265.4L891.8,264.7L894.1,264.1L896.5,263.5L898.8,262.8L901.2,262.2L903.5,261.7L905.9,261.1L908.2,260.5L910.6,260.0L912.9,259.4L915.3,258.9L917.6,258.4L920.0,257.9L922.4,257.4L924.7,256.9L927.1,256.4L929.4,255.9L931.8,255.5L934.1,255.0L936.5,254.6L938.8,254.1L941.2,253.7L943.5,253.3L945.9,252.9L948.2,252.5L950.6,252.1L952.9,251.7L955.3,251.3L957.6,250.9L960.0,250.6L962.4,250.2L964.7,249.8L967.1,249.5L969.4,249.2L971.8,248.8L974.1,248.5L976.5,248.1L978.8,247.8L981.2,247.5L983.5,247.2L985.9,246.9L988.2,246.6L990.6,246.3L992.9,246.0L995.3,245.7L997.6,245.4L1000.0,245.1L1002.4,244.8L1004.7,244.5L1007.1,244.2L1009.4,243.9L1011.8,243.6L1014.1,243.3L1016.5,243.0L1018.8,242.7L1021.2,242.4L1023.5,242.1L1025.9,241.8L1028.2,241.5L1030.6,241.2L1032.9,240.9L1035.3,240.6L1037.6,240.3L1040.0,240.0L1042.4,239.6L1044.7,239.3L1047.1,239.0L1049.4,238.6L1051.8,238.3L1054.1,238.0L1056.5,237.6L1058.8,237.2L1061.2,236.9L1063.5,236.5L1065.9,236.1L1068.2,235.7L1070.6,235.4L1072.9,235.0L1075.3,234.5L1077.6,234.1L1080.0,233.7L1082.4,233.3L1084.7,232.8L1087.1,232.4L1089.4,231.9L1091.8,231.4L1094.1,231.0L1096.5,230.5L1098.8,230.0L1101.2,229.5L1103.5,228.9L1105.9,228.4L1108.2,227.9L1110.6,227.3L1112.9,226.8L1115.3,226.2L1117.6,225.6L1120.0,225.0L1122.4,224.4L1124.7,223.8L1127.1,223.1L1129.4,222.5L1131.8,221.8L1134.1,221.1L1136.5,220.4L1138.8,219.7L1141.2,219.0L1143.5,218.3L1145.9,217.5L1148.2,216.8L1150.6,216.0L1152.9,215.2L1155.3,214.4L1157.6,213.6L1160.0,212.8L1162.4,212.0L1164.7,211.1L1167.1,210.2L1169.4,209.4L1171.8,208.5L1174.1,207.6L1176.5,206.7L1178.8,205.7L1181.2,204.8L1183.5,203.8L1185.9,202.9L1188.2,201.9L1190.6,200.9L1192.9,199.9L1195.3,198.9L1197.6,197.9L1200.0,196.9L1202.4,195.8L1204.7,194.8L1207.1,193.7L1209.4,192.6L1211.8,191.5L1214.1,190.4L1216.5,189.3L1218.8,188.2L1221.2,187.0L1223.5,185.9L1225.9,184.7L1228.2,183.6L1230.6,182.4L1232.9,181.2L1235.3,180.0L1237.6,178.8L1240.0,177.6L1242.4,176.4L1244.7,175.1L1247.1,173.9L1249.4,172.6L1251.8,171.3L1254.1,170.1L1256.5,168.8L1258.8,167.5L1261.2,166.2L1263.5,164.8L1265.9,163.5L1268.2,162.2L1270.6,160.8L1272.9,159.5L1275.3,158.1L1277.6,156.7L1280.0,155.3L1282.4,153.9L1284.7,152.5L1287.1,151.1L1289.4,149.7L1291.8,148.3L1294.1,146.8L1296.5,145.4L1298.8,143.9L1301.2,142.5L1303.5,141.0L1305.9,139.5L1308.2,138.0L1310.6,136.5L1312.9,135.1L1315.3,133.6L1317.6,132.1L1320.0,130.6L1322.4,129.0L1324.7,127.5L1327.1,126.0L1329.4,124.5L1331.8,123.0L1334.1,121.4L1336.5,119.9L1338.8,118.4L1341.2,116.9L1343.5,115.3L1345.9,113.8L1348.2,112.3L1350.6,110.7L1352.9,109.2L1355.3,107.7L1357.6,106.1L1360.0,104.6L1362.4,103.1L1364.7,101.6L1367.1,100.0L1369.4,98.5L1371.8,97.0L1374.1,95.5L1376.5,94.0L1378.8,92.5L1381.2,91.0L1383.5,89.5L1385.9,88.0L1388.2,86.5L1390.6,85.0L1392.9,83.5L1395.3,82.1L1397.6,80.6L1400.0,79.2L1402.4,77.7L1404.7,76.3L1407.1,74.8L1409.4,73.4L1411.8,72.0L1414.1,70.6L1416.5,69.2L1418.8,67.8L1421.2,66.4L1423.5,65.1L1425.9,63.7L1428.2,62.4L1430.6,61.0L1432.9,59.7L1435.3,58.4L1437.6,57.1L1440.0,55.8L1442.4,54.6L1444.7,53.3L1447.1,52.1L1449.4,50.8L1451.8,49.6L1454.1,48.4L1456.5,47.2L1458.8,46.0L1461.2,44.9L1463.5,43.7L1465.9,42.6L1468.2,41.5L1470.6,40.4L1472.9,39.4L1475.3,38.3L1477.6,37.3L1480.0,36.2L1482.4,35.2L1484.7,34.3L1487.1,33.3L1489.4,32.3L1491.8,31.4L1494.1,30.5L1496.5,29.6L1498.8,28.8L1501.2,27.9L1503.5,27.1L1505.9,26.3L1508.2,25.5L1510.6,24.8L1512.9,24.1L1515.3,23.4L1517.6,22.7L1520.0,22.0L1522.4,21.4L1524.7,20.8L1527.1,20.3L1529.4,19.7L1531.8,19.2L1534.1,18.7L1536.5,18.2L1538.8,17.8L1541.2,17.4L1543.5,17.0L1545.9,16.7L1548.2,16.4L1550.6,16.1L1552.9,15.9L1555.3,15.6L1557.6,15.5L1560.0,15.3L1562.4,15.2L1564.7,15.0L1567.1,15.0L1569.4,14.9L1571.8,14.8L1574.1,14.8L1576.5,14.8L1578.8,14.8L1581.2,14.8L1583.5,14.9L1585.9,15.0L1588.2,15.1L1590.6,15.2L1592.9,15.4L1595.3,15.6L1597.6,15.9L1600.0,16.2L1602.4,16.6L1604.7,17.0L1607.1,17.4L1609.4,17.9L1611.8,18.4L1614.1,19.0L1616.5,19.6L1618.8,20.2L1621.2,20.9L1623.5,21.6L1625.9,22.4L1628.2,23.1L1630.6,23.9L1632.9,24.8L1635.3,25.6L1637.6,26.5L1640.0,27.4L1642.4,28.3L1644.7,29.2L1647.1,30.2L1649.4,31.1L1651.8,32.1L1654.1,33.1L1656.5,34.1L1658.8,35.1L1661.2,36.1L1663.5,37.1L1665.9,38.1L1668.2,39.2L1670.6,40.2L1672.9,41.2L1675.3,42.2" stroke="#ff0000" stroke-dasharray="49.7 31.7"/>
</g>
<text transform="translate(194.5,1168.1) scale(0.821,1)" font-size="68.3" text-anchor="middle" fill="#262626" stroke="#262626" stroke-width="0.45">400</text>
<text transform="translate(440.1,1168.1) scale(0.821,1)" font-size="68.3" text-anchor="middle" fill="#262626" stroke="#262626" stroke-width="0.45">500</text>
<text transform="translate(685.7,1168.1) scale(0.821,1)" font-size="68.3" text-anchor="middle" fill="#262626" stroke="#262626" stroke-width="0.45">600</text>
<text transform="translate(931.3,1168.1) scale(0.821,1)" font-size="68.3" text-anchor="middle" fill="#262626" stroke="#262626" stroke-width="0.45">700</text>
<text transform="translate(1176.9,1168.1) scale(0.821,1)" font-size="68.3" text-anchor="middle" fill="#262626" stroke="#262626" stroke-width="0.45">800</text>
<text transform="translate(1422.5,1168.1) scale(0.821,1)" font-size="68.3" text-anchor="middle" fill="#262626" stroke="#262626" stroke-width="0.45">900</text>
<text transform="translate(168.8,1097.1) scale(0.821,1)" font-size="68.3" text-anchor="end" fill="#262626" stroke="#262626" stroke-width="0.45">0.3</text>
<text transform="translate(168.8,946.2) scale(0.821,1)" font-size="68.3" text-anchor="end" fill="#262626" stroke="#262626" stroke-width="0.45">0.4</text>
<text transform="translate(168.8,795.4) scale(0.821,1)" font-size="68.3" text-anchor="end" fill="#262626" stroke="#262626" stroke-width="0.45">0.5</text>
<text transform="translate(168.8,644.5) scale(0.821,1)" font-size="68.3" text-anchor="end" fill="#262626" stroke="#262626" stroke-width="0.45">0.6</text>
<text transform="translate(168.8,493.7) scale(0.821,1)" font-size="68.3" text-anchor="end" fill="#262626" stroke="#262626" stroke-width="0.45">0.7</text>
<text transform="translate(168.8,342.8) scale(0.821,1)" font-size="68.3" text-anchor="end" fill="#262626" stroke="#262626" stroke-width="0.45">0.8</text>
<text transform="translate(168.8,192.0) scale(0.821,1)" font-size="68.3" text-anchor="end" fill="#262626" stroke="#262626" stroke-width="0.45">0.9</text>
<text transform="translate(805.2,1266.6) scale(0.8395,1)" font-size="77.3" text-anchor="middle" fill="#262626" stroke="#262626" stroke-width="0.3">Wavelength/nm</text>
<text transform="translate(55,543.6) rotate(-90) scale(1,0.877)" font-size="76.2" text-anchor="middle" fill="#262626" stroke="#262626" stroke-width="0.6">Intensity</text>
<rect x="953" y="351.5" width="432" height="357" fill="#ffffff" stroke="#262626" stroke-width="4" shape-rendering="crispEdges"/>
<line x1="969.6" y1="402.6" x2="1100" y2="402.6" stroke="#0000ff" stroke-width="8.5"/>
<text transform="translate(1111.3,426.9) scale(0.841,1)" font-size="62.3" text-anchor="start" fill="#000000" stroke="#000000" stroke-width="0.7">Original</text>
<line x1="969.6" y1="487.6" x2="1100" y2="487.6" stroke="#ff00ff" stroke-width="8.5" stroke-dasharray="44.5 24.9"/>
<text transform="translate(1111.3,511.9) scale(0.841,1)" font-size="62.3" text-anchor="start" fill="#000000" stroke="#000000" stroke-width="0.7">Gauss</text>
<line x1="969.6" y1="572.6" x2="1100" y2="572.6" stroke="#00ff00" stroke-width="8.5" stroke-dasharray="44.5 24.9"/>
<text transform="translate(1111.3,596.9) scale(0.841,1)" font-size="62.3" text-anchor="start" fill="#000000" stroke="#000000" stroke-width="0.7">Polynomial</text>
<line x1="969.6" y1="657.6" x2="1100" y2="657.6" stroke="#ff0000" stroke-width="8.5" stroke-dasharray="44.5 24.9"/>
<text transform="translate(1111.3,681.9) scale(0.841,1)" font-size="62.3" text-anchor="start" fill="#000000" stroke="#000000" stroke-width="0.7">Fourier</text>
</svg>
</body></html>
